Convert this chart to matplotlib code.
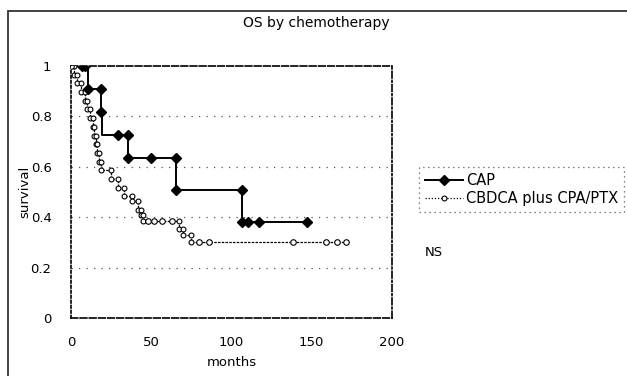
import numpy as np
import matplotlib
matplotlib.use("Agg")
import matplotlib.pyplot as plt
from matplotlib.patches import Rectangle
from matplotlib.lines import Line2D

plt.rcParams['font.family'] = ['DejaVu Sans']

# ---- data ----
title = "OS by chemotherapy"
x_label = "months"
y_label = "survival"
series_names = ["CAP", "CBDCA plus CPA/PTX"]
x_ticks = [0, 50, 100, 150, 200]
y_ticks = [0, 0.2, 0.4, 0.6, 0.8, 1]
y_tick_labels = ["0", "0.2", "0.4", "0.6", "0.8", "1"]
note = "NS"

# CAP: Kaplan-Meier step (time of drop, survival after drop)
cap_t = [0, 10.5, 18.5, 19.5, 35.7, 65.4, 106.3, 146.8]
cap_s = [1.0, 0.909, 0.818, 0.727, 0.636, 0.509, 0.382, 0.382]
# CAP marker points
cap_mt = [7.0, 9.0, 10.5, 18.5, 18.5, 29.5, 35.7, 35.7, 49.7, 65.4, 65.4,
          106.3, 106.3, 110.5, 117.3, 146.8]
cap_ms = [1.0, 1.0, 0.909, 0.909, 0.818, 0.727, 0.727, 0.636, 0.636, 0.636,
          0.509, 0.509, 0.382, 0.382, 0.382, 0.382]

# CBDCA plus CPA/PTX: step (time of drop, survival after drop)
cb_t = [0, 2, 4, 6.5, 8.5, 10, 12, 13.5, 14.5, 15.5, 16.5, 17.5, 19, 25, 29,
        33, 38, 42, 43.5, 45, 67, 70, 75, 171.5]
cb_s = [1.0, 0.966, 0.931, 0.897, 0.862, 0.828, 0.793, 0.759, 0.724, 0.690,
        0.655, 0.621, 0.586, 0.552, 0.517, 0.483, 0.464, 0.43, 0.41, 0.385,
        0.355, 0.328, 0.30, 0.30]
# censored observations
cb_ct = [48, 52, 57, 63, 80, 86, 138.5, 159, 166, 171.5]
cb_cs = [0.385, 0.385, 0.385, 0.385, 0.30, 0.30, 0.30, 0.30, 0.30, 0.30]

FS = 9.5

# ---- figure ----
fig = plt.figure(figsize=(6.27, 3.76), dpi=100)
fig.patch.set_facecolor('white')

# outer chart-area frame
fig.patches.append(Rectangle((8 / 627, -0.2), 1.5, 1.2 - 11 / 376,
                             transform=fig.transFigure, fill=False,
                             edgecolor='#333333', linewidth=1.3))

ax = fig.add_axes([71 / 627, 58 / 376, 321 / 627, 252 / 376])
ax.set_xlim(0, 200)
ax.set_ylim(0, 1)

# gridlines
for yv in y_ticks[1:-1]:
    ax.axhline(yv, color='#555555', linewidth=0.9, linestyle=(0, (1, 5)), zorder=1)

# CAP
ax.step(cap_t, cap_s, where='post', color='black', linewidth=1.4, zorder=3)
ax.plot(cap_mt, cap_ms, linestyle='none', marker='D', markersize=5,
        color='black', zorder=4)

# CBDCA
cb_t_arr = np.array(cb_t)
cb_s_arr = np.array(cb_s)
ax.step(cb_t, cb_s, where='post', color='black', linewidth=0.9,
        linestyle=(0, (2, 1)), zorder=2)
corner_x = np.repeat(cb_t_arr[1:-1], 2)
corner_y = np.column_stack([cb_s_arr[:-2], cb_s_arr[1:-1]]).ravel()
ax.plot(corner_x, corner_y, linestyle='none', marker='o', markersize=3.5,
        markerfacecolor='white', markeredgecolor='black', markeredgewidth=0.8,
        zorder=3)
ax.plot(cb_ct, cb_cs, linestyle='none', marker='o', markersize=4,
        markerfacecolor='white', markeredgecolor='black', markeredgewidth=0.8,
        zorder=3)
ax.plot([0], [1], linestyle='none', marker='o', markersize=4,
        markerfacecolor='white', markeredgecolor='black', markeredgewidth=0.8,
        zorder=3)

# spines
ax.spines['top'].set_linestyle((0, (4, 1.5)))
ax.spines['bottom'].set_linestyle((0, (4, 1.5)))
ax.spines['right'].set_linestyle((0, (4, 1.5, 1, 1.5)))
ax.spines['left'].set_linestyle((0, (1.5, 1.5)))
for sp in ax.spines.values():
    sp.set_linewidth(1.2)
    sp.set_color('black')

ax.set_xticks(x_ticks)
ax.set_xticklabels([str(v) for v in x_ticks])
ax.set_yticks(y_ticks)
ax.set_yticklabels(y_tick_labels)
ax.tick_params(axis='x', length=0, pad=13, labelsize=FS)
ax.tick_params(axis='y', length=0, pad=14, labelsize=FS)

fig.text(316 / 627, 1 - 23 / 376, title, ha='center', va='center', fontsize=10)
fig.text(232 / 627, 1 - 362 / 376, x_label, ha='center', va='center', fontsize=FS)
fig.text(25 / 627, 1 - 192 / 376, y_label, ha='center', va='center',
         rotation=90, fontsize=FS)

handles = [
    Line2D([], [], color='black', linewidth=1.4, marker='D', markersize=5),
    Line2D([], [], color='black', linewidth=0.9, linestyle=(0, (1, 1.5)),
           marker='o', markersize=3.5, markerfacecolor='white',
           markeredgecolor='black', markeredgewidth=0.8),
]
leg = fig.legend(handles, series_names, loc='upper left',
                 bbox_to_anchor=(419 / 627, 1 - 167 / 376),
                 fontsize=10.5, frameon=True, fancybox=False,
                 handlelength=2.6, handletextpad=0.2, borderpad=0.4,
                 labelspacing=0.25, borderaxespad=0)
leg.get_frame().set_linestyle((0, (1, 3)))
leg.get_frame().set_edgecolor('#333333')
leg.get_frame().set_linewidth(0.9)

fig.text(425 / 627, 1 - 252 / 376, note, ha='left', va='center', fontsize=FS)

fig.savefig('out.png', dpi=100, facecolor='white')
